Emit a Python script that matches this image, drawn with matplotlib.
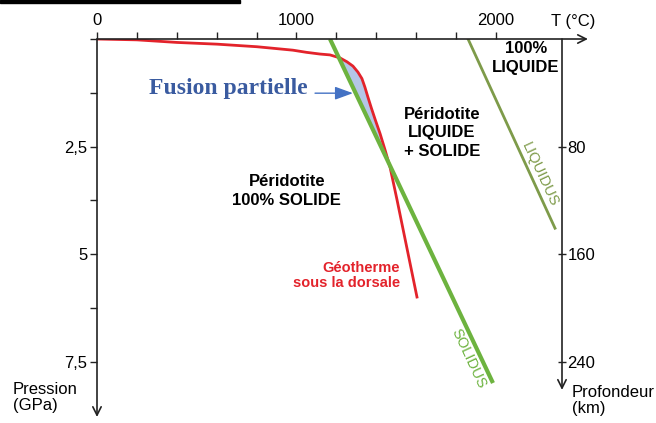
import numpy as np
import matplotlib.pyplot as plt
from matplotlib.patches import Rectangle

plt.rcParams['font.family'] = ['Liberation Sans', 'DejaVu Sans']

# geotherme sous la dorsale (T en °C, P en GPa)
geo_T = [0, 200, 401, 602, 802, 982, 1050, 1118, 1168, 1218, 1253, 1283, 1308,
         1328, 1343, 1358, 1375, 1395, 1419, 1444, 1469, 1504, 1604]
geo_P = [0, 0.02, 0.08, 0.12, 0.18, 0.26, 0.31, 0.35, 0.37, 0.44, 0.53, 0.63, 0.77,
         0.92, 1.12, 1.35, 1.60, 1.88, 2.20, 2.58, 2.98, 3.74, 6.00]

# solidus et liquidus (segments droits)
sol_T = [1168, 1985]
sol_P = [0, 8.0]
liq_T = [1860, 2296]
liq_P = [0, 4.40]

T_ticks = [0, 200, 400, 600, 800, 1000, 1200, 1400, 1600, 1800, 2000]
T_labels = ["0", "", "", "", "", "1000", "", "", "", "", "2000"]
P_ticks = [0, 1.25, 2.5, 3.75, 5, 6.25, 7.5]
P_labels = ["", "", "2,5", "", "5", "", "7,5"]
depth_ticks = [80, 160, 240]
km_per_GPa = 32

T_MAX = 2331
P_MAX = 8.79
AX_COL = "#222222"
FS = 12

fig = plt.figure(figsize=(6.56, 4.23), dpi=100)
ax = fig.add_axes([97/656, 6/423, 465/656, 378/423])
ax.set_xlim(0, T_MAX)
ax.set_ylim(P_MAX, 0)
for s in ax.spines.values():
    s.set_visible(False)

# fusion partielle : zone où le géotherme dépasse le solidus
geo_T = np.array(geo_T)
geo_P = np.array(geo_P)
sol_at_geo = np.interp(geo_P, sol_P, sol_T)
ax.fill_betweenx(geo_P, sol_at_geo, geo_T, where=geo_T >= sol_at_geo,
                 interpolate=True, color="#b4c6e7", lw=0, zorder=1)

ax.plot(geo_T, geo_P, color="#e3232b", lw=2, zorder=2, solid_joinstyle="round")
ax.plot(liq_T, liq_P, color="#7e9b4a", lw=2, zorder=2)
ax.plot(sol_T, sol_P, color="#6db33f", lw=3, zorder=3, solid_capstyle="butt")

# axes fléchés
arrow = dict(arrowstyle="->,head_length=0.6,head_width=0.3", color=AX_COL,
             lw=1.2, shrinkA=0, shrinkB=0)
ax.annotate("", xy=(2461, 0), xytext=(0, 0), arrowprops=arrow, annotation_clip=False)
ax.annotate("", xy=(0, P_MAX), xytext=(0, 0), arrowprops=arrow, annotation_clip=False)
ax.annotate("", xy=(T_MAX, 8.16), xytext=(T_MAX, 0), arrowprops=arrow, annotation_clip=False)

ax.xaxis.tick_top()
ax.set_xticks(T_ticks)
ax.set_xticklabels(T_labels)
ax.set_yticks(P_ticks)
ax.set_yticklabels(P_labels)
ax.tick_params(axis="x", direction="out", length=5, width=1, color=AX_COL,
               labelsize=FS, pad=3)
ax.tick_params(axis="y", direction="out", length=5, width=1, color=AX_COL,
               labelsize=FS, pad=2)

sec = ax.secondary_yaxis("right", functions=(lambda p: p * km_per_GPa,
                                              lambda d: d / km_per_GPa))
sec.set_yticks(depth_ticks)
sec.spines["right"].set_visible(False)
sec.tick_params(direction="inout", length=6, width=1, color=AX_COL,
                labelsize=FS, pad=1)

ax.text(2386, -0.40, "T (°C)", fontsize=FS, ha="center", va="center")
ax.text(-421, 8.33, "Pression\n(GPa)", fontsize=FS, ha="left", va="center",
        linespacing=1.1)
ax.text(2381, 8.40, "Profondeur\n(km)", fontsize=FS, ha="left", va="center",
        linespacing=1.1)

bold = dict(fontsize=FS, fontweight="bold", ha="center", va="center",
            linespacing=1.3)
ax.text(952, 3.53, "Péridotite\n100% SOLIDE", **bold)
ax.text(1729, 2.18, "Péridotite\nLIQUIDE\n+ SOLIDE", **bold)
ax.text(2150, 0.44, "100%\nLIQUIDE", **bold)
ax.text(1519, 5.51, "Géotherme\nsous la dorsale", fontsize=10.5, fontweight="bold",
        color="#e3232b", ha="right", va="center", linespacing=1.1)
ax.text(2221, 3.16, "LIQUIDUS", fontsize=10.5, color="#7e9b4a", rotation=-65,
        ha="center", va="center", rotation_mode="anchor")
ax.text(1865, 7.42, "SOLIDUS", fontsize=10.5, color="#6db33f", rotation=-65,
        ha="center", va="center", rotation_mode="anchor")

ax.text(657, 1.14, "Fusion partielle", fontsize=17, fontweight="bold",
        family=["Liberation Serif", "DejaVu Serif"], color="#3a5ba0",
        ha="center", va="center")
ax.annotate("", xy=(1283, 1.26), xytext=(1093, 1.26),
            arrowprops=dict(arrowstyle="-|>,head_length=1.1,head_width=0.4",
                            color="#4472c4", lw=1, shrinkA=0, shrinkB=0))

fig.patches.append(Rectangle((0, 1 - 3/423), 240/656, 3/423,
                             transform=fig.transFigure, color="black"))

fig.savefig("out.png", dpi=100)
